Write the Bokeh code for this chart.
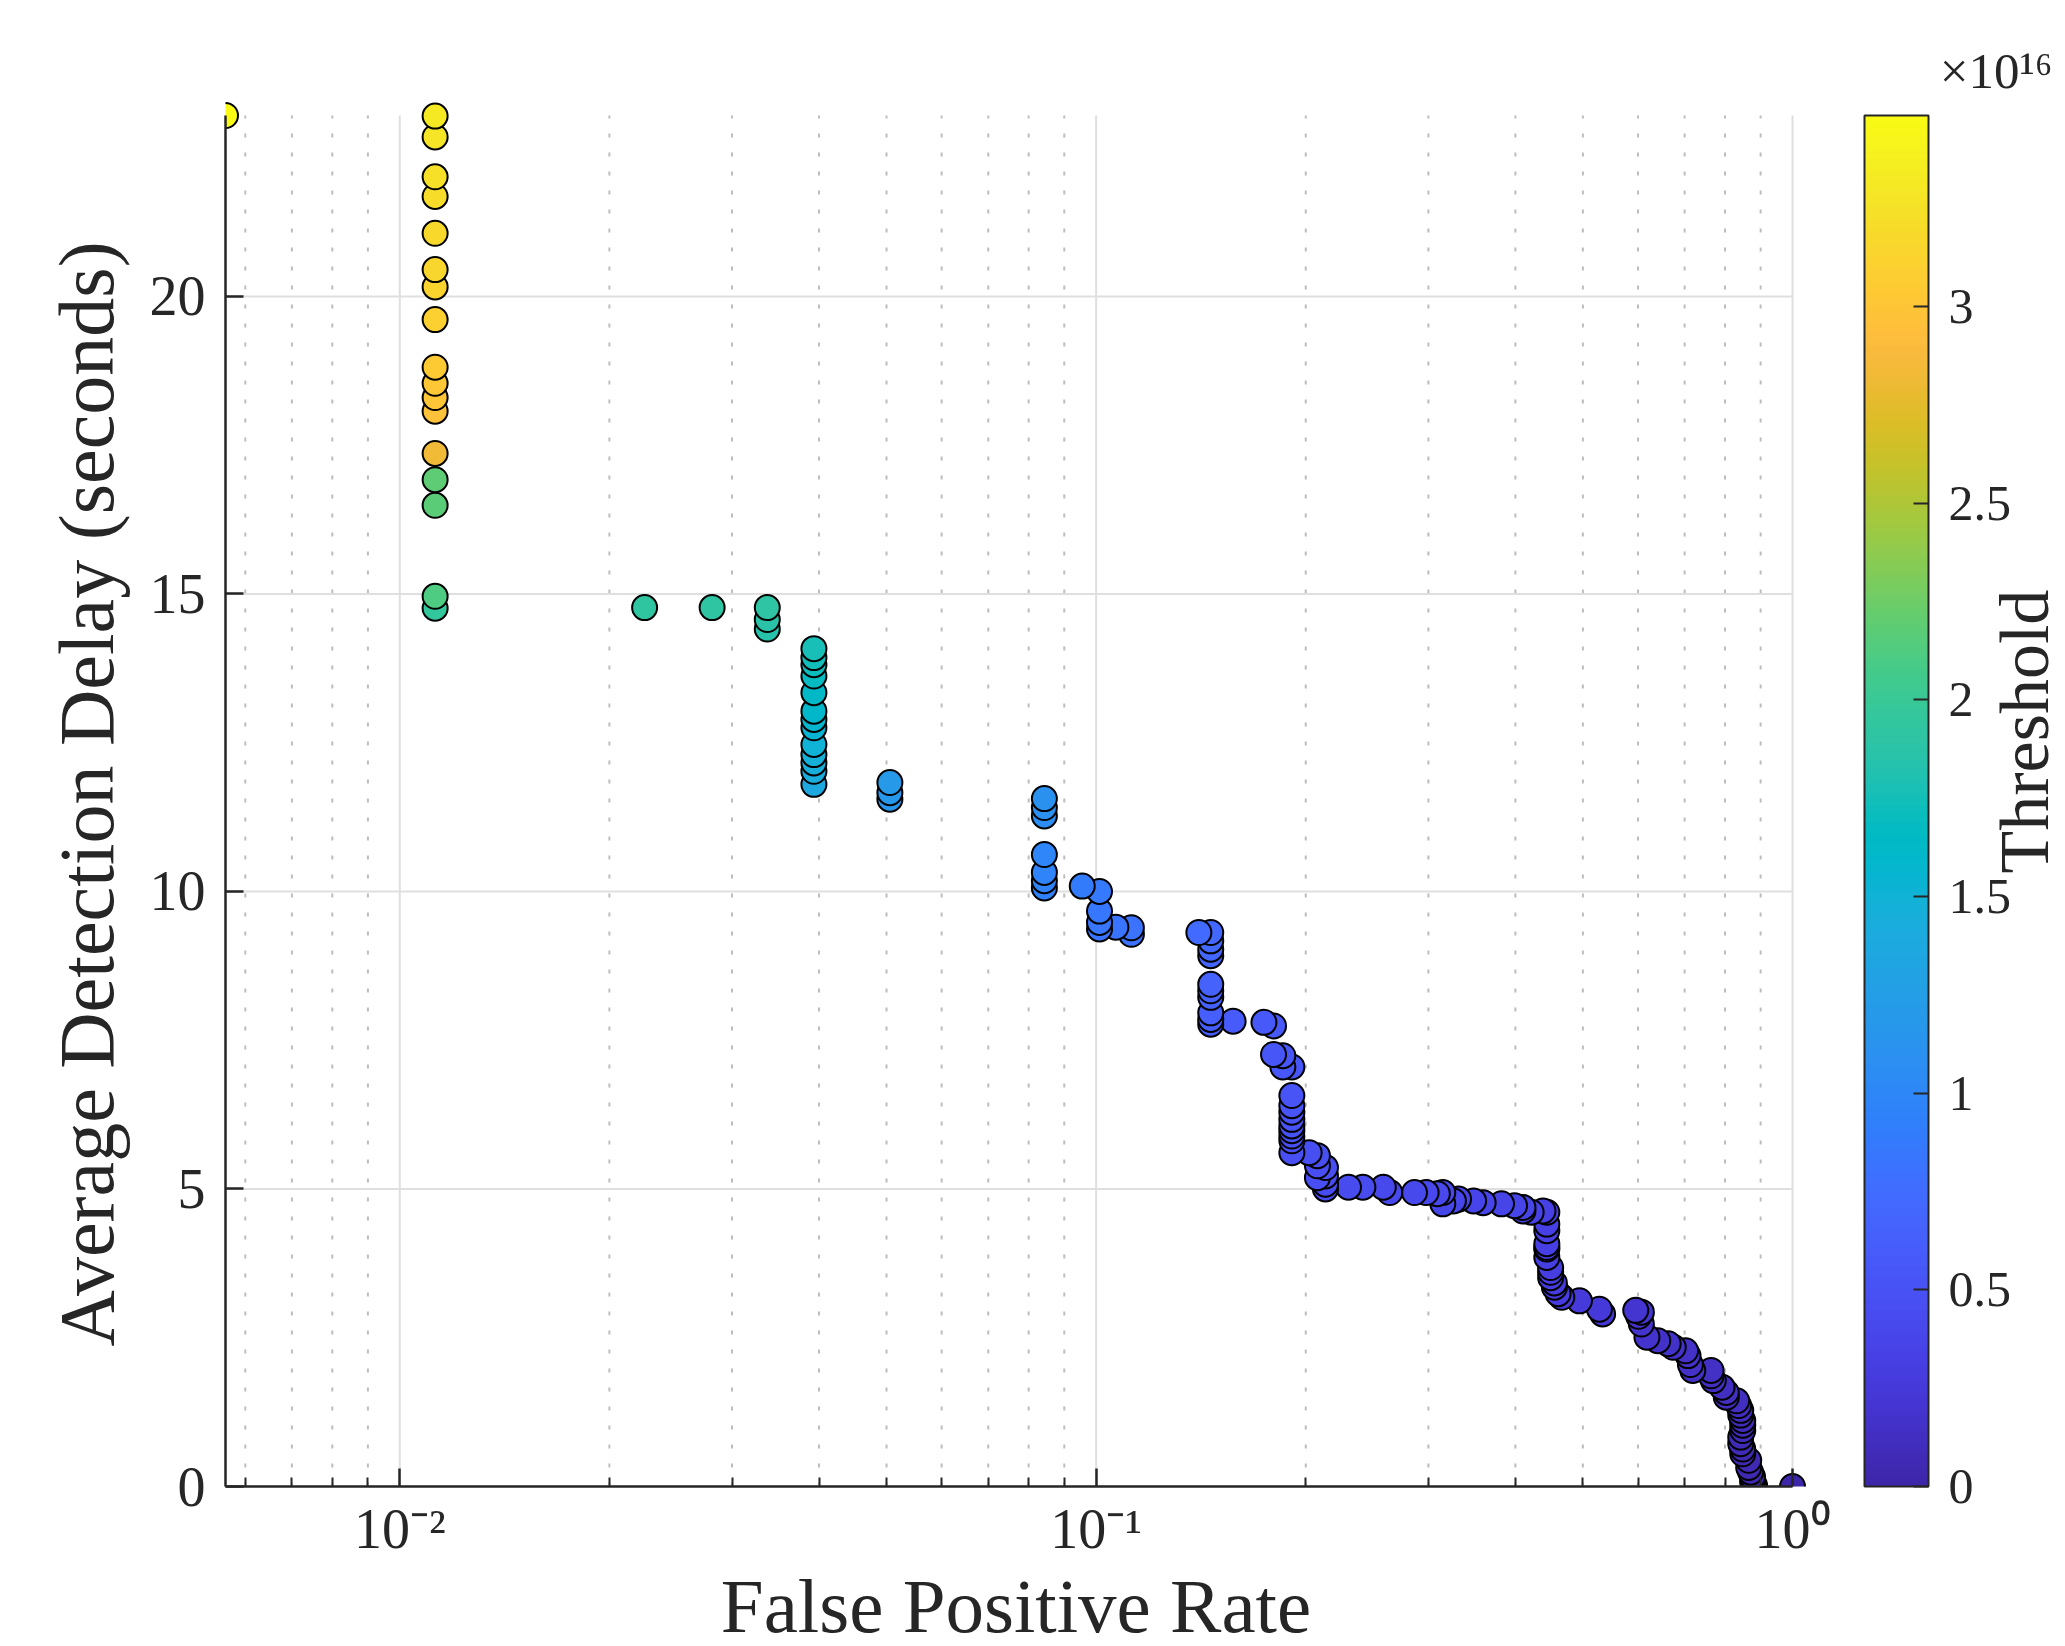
import numpy as np
from math import pi, log10
from bokeh.plotting import figure
from bokeh.models import (ColumnDataSource, LinearColorMapper, ColorBar, FixedTicker, Range1d,
                          LinearAxis, Title)
from bokeh.embed import file_html
from bokeh.resources import INLINE

# ---------------- data ----------------
fpr = [
    0.00562,
    0.01124, 0.01124, 0.01124, 0.01124, 0.01124, 0.01124, 0.01124, 0.01124, 0.01124,
    0.01124, 0.01124, 0.01124, 0.01124, 0.01124, 0.01124, 0.01124, 0.01124,
    0.02247, 0.02809, 0.03371, 0.03371, 0.03371,
    0.03933, 0.03933, 0.03933, 0.03933, 0.03933, 0.03933, 0.03933, 0.03933, 0.03933,
    0.03933, 0.03933, 0.03933, 0.03933,
    0.05056, 0.05056, 0.05056,
    0.08427, 0.08427, 0.08427, 0.08427, 0.08427, 0.08427, 0.08427,
    0.09551,
    0.10112, 0.10112, 0.10112, 0.10112,
    0.10674,
    0.11236, 0.11236,
    0.14045,
    0.14607, 0.14607, 0.14607, 0.14607, 0.14607, 0.14607, 0.14607, 0.14607, 0.14607, 0.14607,
    0.15730, 0.17416, 0.17978, 0.17978, 0.18539, 0.18539, 0.19101,
    0.19101, 0.19101, 0.19101, 0.19101, 0.19101, 0.19101, 0.19101, 0.19101, 0.19101,
    0.20225, 0.20787, 0.20787, 0.21348, 0.20787, 0.21348, 0.21348, 0.21348,
    0.23034, 0.24157, 0.25843, 0.26404, 0.28652, 0.29775, 0.30899, 0.31461, 0.31461,
    0.32584, 0.33146, 0.34831, 0.35955, 0.38202, 0.39888, 0.41011, 0.41011, 0.42135,
    0.43820, 0.44382, 0.44382, 0.44382, 0.44382, 0.44382, 0.44382, 0.44382, 0.44944,
    0.44944, 0.44944, 0.45506, 0.45506, 0.46067, 0.46629, 0.49438, 0.52809, 0.53371,
    0.59551, 0.60674, 0.60112, 0.60674, 0.61798, 0.64045, 0.66292, 0.67416, 0.70225,
    0.70787, 0.71348, 0.71910, 0.76404, 0.76404, 0.76966, 0.79213, 0.80337, 0.80337,
    0.83146, 0.83708, 0.84270, 0.84270, 0.84831, 0.84831, 0.84831, 0.84270, 0.84270,
    0.84831, 0.84831, 0.86517, 0.86517, 0.87079, 0.87640, 0.87640, 0.88202, 1.0,
]

delay = [
    23.04,
    23.03, 22.68, 22.01, 21.68, 21.06, 20.45, 20.16, 19.61, 18.81,
    18.54, 18.30, 18.07, 17.36, 16.92, 16.49, 14.96, 14.76,
    14.77, 14.77, 14.77, 14.57, 14.41,
    14.08, 13.93, 13.81, 13.62, 13.34, 13.03, 12.89, 12.75, 12.47,
    12.30, 12.16, 12.02, 11.80,
    11.83, 11.66, 11.55,
    11.56, 11.41, 11.27, 10.62, 10.32, 10.18, 10.06,
    10.09,
    10.00, 9.67, 9.48, 9.37,
    9.40,
    9.39, 9.28,
    9.31,
    9.31, 9.17, 9.03, 8.92, 8.44, 8.33, 8.22, 7.96, 7.85, 7.77,
    7.82, 7.80, 7.74, 7.26, 7.24, 7.05, 7.05,
    6.57, 6.40, 6.29, 6.17, 6.06, 5.98, 5.89, 5.81, 5.61,
    5.61, 5.56, 5.39, 5.36, 5.19, 5.22, 5.08, 5.00,
    5.03, 5.03, 5.03, 4.94, 4.94, 4.94, 4.92, 4.94, 4.75,
    4.80, 4.83, 4.80, 4.77, 4.75, 4.72, 4.69, 4.63, 4.61,
    4.63, 4.61, 4.41, 4.30, 4.08, 4.02, 3.99, 3.85, 3.68,
    3.60, 3.51, 3.42, 3.35, 3.24, 3.18, 3.12, 2.98, 2.90,
    2.96, 2.93, 2.86, 2.73, 2.51, 2.45, 2.40, 2.34, 2.28,
    2.20, 2.05, 1.95, 1.95, 1.86, 1.78, 1.67, 1.58, 1.50,
    1.44, 1.36, 1.28, 1.20, 1.11, 1.03, 0.94, 0.83, 0.72,
    0.63, 0.55, 0.44, 0.32, 0.24, 0.16, 0.08, 0.02, 0.0,
]

threshold_e16 = [
    3.486,
    3.32, 3.28, 3.24, 3.21, 3.18, 3.15, 3.13, 3.10, 3.05,
    3.02, 3.00, 2.96, 2.82, 2.19, 2.17, 2.12, 1.95,
    1.93, 1.92, 1.90, 1.87, 1.84,
    1.77, 1.74, 1.71, 1.68, 1.64, 1.60, 1.57, 1.54, 1.51,
    1.48, 1.45, 1.42, 1.38,
    1.19, 1.17, 1.15,
    1.11, 1.09, 1.07, 0.99, 0.97, 0.96, 0.95,
    0.89,
    0.87, 0.85, 0.84, 0.83,
    0.82,
    0.81, 0.80,
    0.73,
    0.72, 0.71, 0.70, 0.69, 0.66, 0.65, 0.64, 0.62, 0.61, 0.60,
    0.59, 0.57, 0.56, 0.55, 0.545, 0.54, 0.535,
    0.53, 0.52, 0.515, 0.51, 0.50, 0.495, 0.49, 0.485, 0.48,
    0.47, 0.465, 0.46, 0.455, 0.45, 0.445, 0.44, 0.435,
    0.43, 0.425, 0.42, 0.415, 0.41, 0.405, 0.40, 0.395, 0.39,
    0.385, 0.38, 0.375, 0.37, 0.365, 0.36, 0.355, 0.35, 0.345,
    0.34, 0.335, 0.33, 0.325, 0.32, 0.315, 0.31, 0.305, 0.30,
    0.295, 0.29, 0.285, 0.28, 0.275, 0.27, 0.26, 0.25, 0.24,
    0.20, 0.195, 0.19, 0.185, 0.18, 0.175, 0.17, 0.165, 0.16,
    0.155, 0.15, 0.145, 0.14, 0.135, 0.13, 0.125, 0.12, 0.115,
    0.11, 0.105, 0.10, 0.095, 0.09, 0.085, 0.08, 0.075, 0.07,
    0.065, 0.06, 0.055, 0.05, 0.045, 0.04, 0.035, 0.03, 0.0,
]

x_major_ticks = [0.01, 0.1, 1.0]
x_major_labels = ["10\u207b\u00b2", "10\u207b\u00b9", "10\u2070"]
x_minor_ticks = [0.006, 0.007, 0.008, 0.009,
                 0.02, 0.03, 0.04, 0.05, 0.06, 0.07, 0.08, 0.09,
                 0.2, 0.3, 0.4, 0.5, 0.6, 0.7, 0.8, 0.9]
y_ticks = [0, 5, 10, 15, 20]
cbar_ticks = [0.0, 0.5, 1.0, 1.5, 2.0, 2.5, 3.0]
cbar_labels = ["0", "0.5", "1", "1.5", "2", "2.5", "3"]
cbar_exponent = "\u00d710\u00b9\u2076"
cbar_title = "Threshold"
THR_MAX = 3.486  # x 10^16

assert len(fpr) == len(delay) == len(threshold_e16)

# ---------------- palette (MATLAB parula) ----------------
PARULA64 = [
    (0.2422, 0.1504, 0.6603), (0.2504, 0.1650, 0.7076), (0.2578, 0.1818, 0.7511), (0.2647, 0.1978, 0.7952),
    (0.2706, 0.2147, 0.8364), (0.2751, 0.2342, 0.8710), (0.2783, 0.2559, 0.8991), (0.2803, 0.2782, 0.9221),
    (0.2813, 0.3006, 0.9414), (0.2810, 0.3228, 0.9579), (0.2795, 0.3447, 0.9717), (0.2760, 0.3667, 0.9829),
    (0.2699, 0.3892, 0.9906), (0.2602, 0.4123, 0.9952), (0.2440, 0.4358, 0.9988), (0.2206, 0.4603, 0.9973),
    (0.1963, 0.4847, 0.9892), (0.1834, 0.5074, 0.9798), (0.1786, 0.5289, 0.9682), (0.1764, 0.5499, 0.9520),
    (0.1687, 0.5703, 0.9359), (0.1540, 0.5902, 0.9218), (0.1460, 0.6091, 0.9079), (0.1380, 0.6276, 0.8973),
    (0.1248, 0.6459, 0.8883), (0.1113, 0.6635, 0.8763), (0.0952, 0.6798, 0.8598), (0.0689, 0.6948, 0.8394),
    (0.0297, 0.7082, 0.8163), (0.0036, 0.7203, 0.7917), (0.0067, 0.7312, 0.7660), (0.0433, 0.7411, 0.7394),
    (0.0964, 0.7500, 0.7120), (0.1408, 0.7584, 0.6842), (0.1717, 0.7670, 0.6554), (0.1938, 0.7758, 0.6251),
    (0.2161, 0.7843, 0.5923), (0.2470, 0.7918, 0.5567), (0.2906, 0.7973, 0.5188), (0.3406, 0.8008, 0.4789),
    (0.3909, 0.8029, 0.4354), (0.4456, 0.8024, 0.3909), (0.5044, 0.7993, 0.3480), (0.5616, 0.7942, 0.3045),
    (0.6174, 0.7876, 0.2612), (0.6720, 0.7793, 0.2227), (0.7242, 0.7698, 0.1910), (0.7738, 0.7598, 0.1646),
    (0.8203, 0.7498, 0.1535), (0.8634, 0.7406, 0.1596), (0.9035, 0.7330, 0.1774), (0.9393, 0.7288, 0.2100),
    (0.9728, 0.7298, 0.2394), (0.9956, 0.7434, 0.2371), (0.9970, 0.7659, 0.2199), (0.9952, 0.7893, 0.2028),
    (0.9892, 0.8136, 0.1885), (0.9786, 0.8386, 0.1766), (0.9676, 0.8639, 0.1643), (0.9610, 0.8890, 0.1537),
    (0.9597, 0.9135, 0.1423), (0.9628, 0.9373, 0.1265), (0.9691, 0.9606, 0.1064), (0.9769, 0.9839, 0.0805),
]


def smooth_palette(anchors, n=256):
    a = np.array(anchors)
    src = np.linspace(0, 1, len(a))
    dst = np.linspace(0, 1, n)
    out = []
    for t in dst:
        rgb = [np.interp(t, src, a[:, k]) for k in range(3)]
        out.append("#%02x%02x%02x" % tuple(int(round(c * 255)) for c in rgb))
    return out


PARULA = smooth_palette(PARULA64)

# ---------------- layout constants (screen px) ----------------
FONT = "Liberation Serif"
TXT = "#262626"
PX_L, PX_R, PX_T, PX_B = 225, 1792, 115, 1486   # where the data limits sit
PAD = 14                                        # room so top / right markers are not clipped
CANVAS_W, CANVAS_H = 2065, 1646
X_LO, X_HI = 0.00562, 1.0
Y_LO, Y_HI = 0.0, 23.04
LLO, LHI = log10(X_LO), log10(X_HI)
DPX = (PX_R - PX_L) / (LHI - LLO)               # px per decade
YPX = (Y_HI - Y_LO) / (PX_B - PX_T)             # data per px

FL, FR, FT, FB = PX_L, PX_R + PAD, PX_T - PAD, PX_B

p = figure(x_axis_type="log",
           x_range=Range1d(X_LO, 10 ** (LHI + PAD / DPX)),
           y_range=Range1d(Y_LO, Y_HI + PAD * YPX),
           frame_width=FR - FL, frame_height=FB - FT,
           min_border_left=FL, min_border_top=FT, min_border_right=CANVAS_W - FR,
           min_border_bottom=10, title=None,
           output_backend="svg", toolbar_location=None)
p.outline_line_color = None
p.background_fill_color = "white"
p.border_fill_color = "white"
p.grid.visible = False

xt = FixedTicker(ticks=x_major_ticks, minor_ticks=x_minor_ticks)
yt = FixedTicker(ticks=y_ticks, minor_ticks=[])
p.xaxis.ticker = xt
p.yaxis.ticker = yt
p.xaxis.major_label_overrides = {v: s for v, s in zip(x_major_ticks, x_major_labels)}
p.xaxis.bounds = (X_LO, X_HI)
p.yaxis.bounds = (Y_LO, Y_HI)

for ax in (p.xaxis[0], p.yaxis[0]):
    ax.axis_line_color = TXT
    ax.axis_line_width = 2.5
    ax.major_tick_line_color = TXT
    ax.major_tick_line_width = 2.5
    ax.minor_tick_line_color = TXT
    ax.minor_tick_line_width = 2
    ax.major_tick_in = 18
    ax.major_tick_out = 0
    ax.minor_tick_in = 9
    ax.minor_tick_out = 0
    ax.major_label_text_font = FONT
    ax.major_label_text_font_size = "56px"
    ax.major_label_text_color = TXT
    ax.axis_label_text_font = FONT
    ax.axis_label_text_font_style = "normal"
    ax.axis_label_text_color = TXT

p.xaxis.axis_label = "False Positive Rate"
p.yaxis.axis_label = "Average Detection Delay (seconds)"
p.xaxis.axis_label_text_font_size = "77px"
p.yaxis.axis_label_text_font_size = "78px"
p.yaxis.major_label_standoff = 20
p.yaxis.axis_label_standoff = 17
p.xaxis.major_label_standoff = 11
p.xaxis.axis_label_standoff = 0

# grid lines, drawn from the tick lists and bounded by the data limits
p.segment(x0=x_minor_ticks, y0=[Y_LO] * len(x_minor_ticks), x1=x_minor_ticks, y1=[Y_HI] * len(x_minor_ticks),
          line_color="#bdbdbd", line_width=2, line_dash="4 15")
p.segment(x0=x_major_ticks, y0=[Y_LO] * len(x_major_ticks), x1=x_major_ticks, y1=[Y_HI] * len(x_major_ticks),
          line_color="#dfdfdf", line_width=2)
p.segment(x0=[X_LO] * len(y_ticks), y0=y_ticks, x1=[X_HI] * len(y_ticks), y1=y_ticks,
          line_color="#dfdfdf", line_width=2)

mapper = LinearColorMapper(palette=PARULA, low=0, high=THR_MAX)

order = np.argsort(np.array(threshold_e16), kind="stable")
src = ColumnDataSource(dict(
    fpr=[fpr[i] for i in order],
    delay=[delay[i] for i in order],
    thr=[threshold_e16[i] for i in order],
))
p.scatter("fpr", "delay", source=src, marker="circle", size=25,
          fill_color={"field": "thr", "transform": mapper},
          line_color="black", line_width=2)

cb = ColorBar(color_mapper=mapper,
              ticker=FixedTicker(ticks=cbar_ticks, minor_ticks=[]),
              major_label_overrides={v: s for v, s in zip(cbar_ticks, cbar_labels)},
              width=64, height=PX_B - PX_T, location=(1864 - FR, 0), padding=0, margin=0,
              label_standoff=20, major_tick_in=15, major_tick_out=0,
              major_tick_line_color=TXT, major_tick_line_width=2,
              minor_tick_line_color=None,
              bar_line_color=TXT, bar_line_width=2,
              major_label_text_font=FONT, major_label_text_font_size="50px",
              major_label_text_color=TXT,
              background_fill_color=None, border_line_color=None)
p.add_layout(cb, "right")

# colorbar label "Threshold": vertical text (reads bottom to top) on a bare axis beside the bar,
# starting just above the "1.5" tick label so the two do not collide
thr_start = (PX_B - 873) * YPX
thr_axis = LinearAxis(ticker=FixedTicker(ticks=[thr_start], minor_ticks=[]),
                      major_label_overrides={thr_start: cbar_title},
                      major_label_orientation=pi / 2, major_label_standoff=10,
                      major_label_text_font=FONT, major_label_text_font_size="70px",
                      major_label_text_color=TXT,
                      axis_line_color=None, major_tick_line_color=None, minor_tick_line_color=None,
                      major_tick_in=0, major_tick_out=0, minor_tick_in=0, minor_tick_out=0)
p.add_layout(thr_axis, "right")

# colorbar exponent
p.add_layout(Title(text=cbar_exponent, align="right", offset=FR - 2052, standoff=6,
                   text_font=FONT, text_font_size="51px", text_font_style="normal",
                   text_color=TXT), "above")

open("out.html", "w").write(file_html(p, INLINE))
